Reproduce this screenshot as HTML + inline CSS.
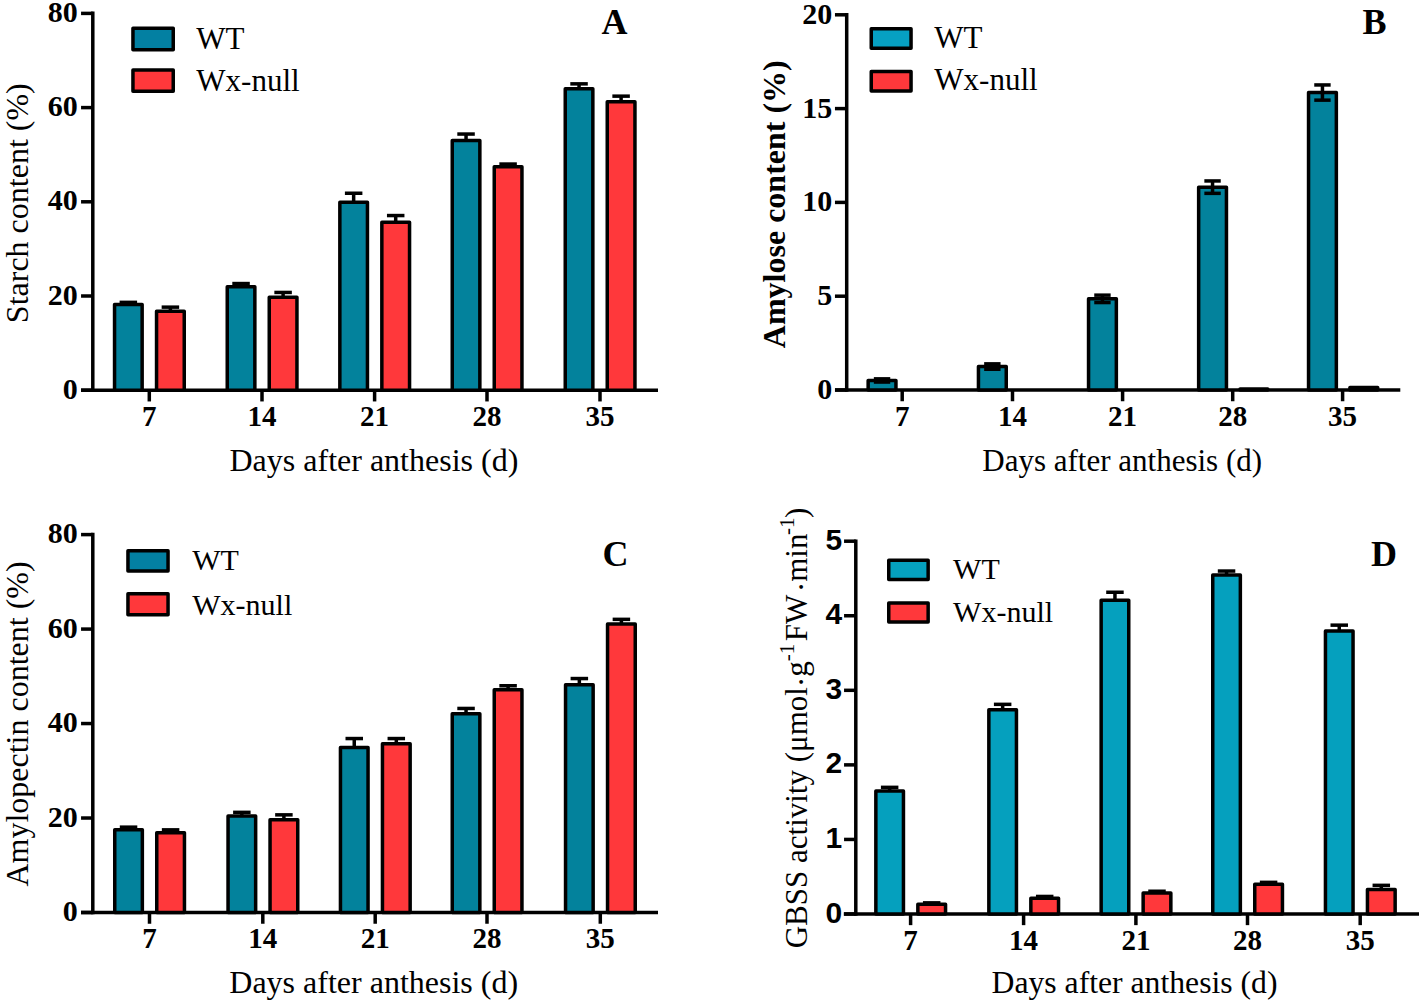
<!DOCTYPE html>
<html><head><meta charset="utf-8"><style>
html,body{margin:0;padding:0;background:#fff;}
body{width:1422px;height:1007px;overflow:hidden;}
svg{display:block;}
</style></head><body>
<svg width="1422" height="1007" viewBox="0 0 1422 1007">
<rect width="1422" height="1007" fill="#fff"/>
<line x1="92.80" y1="11.60" x2="92.80" y2="391.95" stroke="#000" stroke-width="3.5"/>
<line x1="81.00" y1="390.20" x2="658.00" y2="390.20" stroke="#000" stroke-width="3.5"/>
<line x1="81.05" y1="390.20" x2="92.80" y2="390.20" stroke="#000" stroke-width="3.5"/>
<text x="77.80" y="398.70" font-family='"Liberation Serif", serif' font-size="30" font-weight="700" text-anchor="end" >0</text>
<line x1="81.05" y1="296.00" x2="92.80" y2="296.00" stroke="#000" stroke-width="3.5"/>
<text x="77.80" y="304.50" font-family='"Liberation Serif", serif' font-size="30" font-weight="700" text-anchor="end" >20</text>
<line x1="81.05" y1="201.80" x2="92.80" y2="201.80" stroke="#000" stroke-width="3.5"/>
<text x="77.80" y="210.30" font-family='"Liberation Serif", serif' font-size="30" font-weight="700" text-anchor="end" >40</text>
<line x1="81.05" y1="107.60" x2="92.80" y2="107.60" stroke="#000" stroke-width="3.5"/>
<text x="77.80" y="116.10" font-family='"Liberation Serif", serif' font-size="30" font-weight="700" text-anchor="end" >60</text>
<line x1="81.05" y1="13.40" x2="92.80" y2="13.40" stroke="#000" stroke-width="3.5"/>
<text x="77.80" y="21.90" font-family='"Liberation Serif", serif' font-size="30" font-weight="700" text-anchor="end" >80</text>
<line x1="149.30" y1="390.20" x2="149.30" y2="401.45" stroke="#000" stroke-width="3.5"/>
<text x="149.30" y="426.00" font-family='"Liberation Serif", serif' font-size="29" font-weight="700" text-anchor="middle" >7</text>
<line x1="262.00" y1="390.20" x2="262.00" y2="401.45" stroke="#000" stroke-width="3.5"/>
<text x="262.00" y="426.00" font-family='"Liberation Serif", serif' font-size="29" font-weight="700" text-anchor="middle" >14</text>
<line x1="374.60" y1="390.20" x2="374.60" y2="401.45" stroke="#000" stroke-width="3.5"/>
<text x="374.60" y="426.00" font-family='"Liberation Serif", serif' font-size="29" font-weight="700" text-anchor="middle" >21</text>
<line x1="487.00" y1="390.20" x2="487.00" y2="401.45" stroke="#000" stroke-width="3.5"/>
<text x="487.00" y="426.00" font-family='"Liberation Serif", serif' font-size="29" font-weight="700" text-anchor="middle" >28</text>
<line x1="600.00" y1="390.20" x2="600.00" y2="401.45" stroke="#000" stroke-width="3.5"/>
<text x="600.00" y="426.00" font-family='"Liberation Serif", serif' font-size="29" font-weight="700" text-anchor="middle" >35</text>
<rect x="114.55" y="304.55" width="27.60" height="85.65" fill="#03829c" stroke="#000" stroke-width="3.5" stroke-linejoin="round"/>
<line x1="128.35" y1="302.35" x2="128.35" y2="304.55" stroke="#000" stroke-width="3.5"/>
<line x1="119.60" y1="302.35" x2="137.10" y2="302.35" stroke="#000" stroke-width="3.5"/>
<rect x="156.55" y="311.35" width="27.70" height="78.85" fill="#ff383b" stroke="#000" stroke-width="3.5" stroke-linejoin="round"/>
<line x1="170.40" y1="307.15" x2="170.40" y2="311.35" stroke="#000" stroke-width="3.5"/>
<line x1="161.65" y1="307.15" x2="179.15" y2="307.15" stroke="#000" stroke-width="3.5"/>
<rect x="227.25" y="286.85" width="27.60" height="103.35" fill="#03829c" stroke="#000" stroke-width="3.5" stroke-linejoin="round"/>
<line x1="241.05" y1="283.55" x2="241.05" y2="286.85" stroke="#000" stroke-width="3.5"/>
<line x1="232.30" y1="283.55" x2="249.80" y2="283.55" stroke="#000" stroke-width="3.5"/>
<rect x="269.25" y="297.15" width="27.70" height="93.05" fill="#ff383b" stroke="#000" stroke-width="3.5" stroke-linejoin="round"/>
<line x1="283.10" y1="292.45" x2="283.10" y2="297.15" stroke="#000" stroke-width="3.5"/>
<line x1="274.35" y1="292.45" x2="291.85" y2="292.45" stroke="#000" stroke-width="3.5"/>
<rect x="339.85" y="202.15" width="27.60" height="188.05" fill="#03829c" stroke="#000" stroke-width="3.5" stroke-linejoin="round"/>
<line x1="353.65" y1="193.25" x2="353.65" y2="202.15" stroke="#000" stroke-width="3.5"/>
<line x1="344.90" y1="193.25" x2="362.40" y2="193.25" stroke="#000" stroke-width="3.5"/>
<rect x="381.85" y="222.15" width="27.70" height="168.05" fill="#ff383b" stroke="#000" stroke-width="3.5" stroke-linejoin="round"/>
<line x1="395.70" y1="215.55" x2="395.70" y2="222.15" stroke="#000" stroke-width="3.5"/>
<line x1="386.95" y1="215.55" x2="404.45" y2="215.55" stroke="#000" stroke-width="3.5"/>
<rect x="452.25" y="140.45" width="27.60" height="249.75" fill="#03829c" stroke="#000" stroke-width="3.5" stroke-linejoin="round"/>
<line x1="466.05" y1="134.05" x2="466.05" y2="140.45" stroke="#000" stroke-width="3.5"/>
<line x1="457.30" y1="134.05" x2="474.80" y2="134.05" stroke="#000" stroke-width="3.5"/>
<rect x="494.25" y="166.75" width="27.70" height="223.45" fill="#ff383b" stroke="#000" stroke-width="3.5" stroke-linejoin="round"/>
<line x1="508.10" y1="164.05" x2="508.10" y2="166.75" stroke="#000" stroke-width="3.5"/>
<line x1="499.35" y1="164.05" x2="516.85" y2="164.05" stroke="#000" stroke-width="3.5"/>
<rect x="565.25" y="88.75" width="27.60" height="301.45" fill="#03829c" stroke="#000" stroke-width="3.5" stroke-linejoin="round"/>
<line x1="579.05" y1="83.85" x2="579.05" y2="88.75" stroke="#000" stroke-width="3.5"/>
<line x1="570.30" y1="83.85" x2="587.80" y2="83.85" stroke="#000" stroke-width="3.5"/>
<rect x="607.25" y="101.75" width="27.70" height="288.45" fill="#ff383b" stroke="#000" stroke-width="3.5" stroke-linejoin="round"/>
<line x1="621.10" y1="96.15" x2="621.10" y2="101.75" stroke="#000" stroke-width="3.5"/>
<line x1="612.35" y1="96.15" x2="629.85" y2="96.15" stroke="#000" stroke-width="3.5"/>
<rect x="132.95" y="28.35" width="40.30" height="21.40" fill="#0380a2" stroke="#000" stroke-width="3.5" stroke-linejoin="round"/>
<rect x="132.95" y="70.05" width="40.30" height="21.10" fill="#ff383b" stroke="#000" stroke-width="3.5" stroke-linejoin="round"/>
<text x="196.30" y="49.40" font-family='"Liberation Serif", serif' font-size="31" font-weight="400" text-anchor="start" >WT</text>
<text x="196.30" y="90.60" font-family='"Liberation Serif", serif' font-size="31" font-weight="400" text-anchor="start" >Wx-null</text>
<text x="601.50" y="34.30" font-family='"Liberation Serif", serif' font-size="36" font-weight="700" text-anchor="start" >A</text>
<text x="373.90" y="471.40" font-family='"Liberation Serif", serif' font-size="32" font-weight="400" text-anchor="middle" >Days after anthesis (d)</text>
<text transform="translate(28.3,203.2) rotate(-90)" font-family='"Liberation Serif", serif' font-size="32" font-weight="400" text-anchor="middle">Starch content (%)</text>
<line x1="846.70" y1="12.90" x2="846.70" y2="391.75" stroke="#000" stroke-width="3.5"/>
<line x1="835.00" y1="390.00" x2="1400.30" y2="390.00" stroke="#000" stroke-width="3.5"/>
<line x1="834.95" y1="390.00" x2="846.70" y2="390.00" stroke="#000" stroke-width="3.5"/>
<text x="832.30" y="399.00" font-family='"Liberation Serif", serif' font-size="30" font-weight="700" text-anchor="end" >0</text>
<line x1="834.95" y1="296.20" x2="846.70" y2="296.20" stroke="#000" stroke-width="3.5"/>
<text x="832.30" y="305.20" font-family='"Liberation Serif", serif' font-size="30" font-weight="700" text-anchor="end" >5</text>
<line x1="834.95" y1="202.40" x2="846.70" y2="202.40" stroke="#000" stroke-width="3.5"/>
<text x="832.30" y="211.40" font-family='"Liberation Serif", serif' font-size="30" font-weight="700" text-anchor="end" >10</text>
<line x1="834.95" y1="108.60" x2="846.70" y2="108.60" stroke="#000" stroke-width="3.5"/>
<text x="832.30" y="117.60" font-family='"Liberation Serif", serif' font-size="30" font-weight="700" text-anchor="end" >15</text>
<line x1="834.95" y1="14.80" x2="846.70" y2="14.80" stroke="#000" stroke-width="3.5"/>
<text x="832.30" y="23.80" font-family='"Liberation Serif", serif' font-size="30" font-weight="700" text-anchor="end" >20</text>
<line x1="902.20" y1="390.00" x2="902.20" y2="401.25" stroke="#000" stroke-width="3.5"/>
<text x="902.20" y="426.00" font-family='"Liberation Serif", serif' font-size="29" font-weight="700" text-anchor="middle" >7</text>
<line x1="1012.50" y1="390.00" x2="1012.50" y2="401.25" stroke="#000" stroke-width="3.5"/>
<text x="1012.50" y="426.00" font-family='"Liberation Serif", serif' font-size="29" font-weight="700" text-anchor="middle" >14</text>
<line x1="1122.60" y1="390.00" x2="1122.60" y2="401.25" stroke="#000" stroke-width="3.5"/>
<text x="1122.60" y="426.00" font-family='"Liberation Serif", serif' font-size="29" font-weight="700" text-anchor="middle" >21</text>
<line x1="1232.70" y1="390.00" x2="1232.70" y2="401.25" stroke="#000" stroke-width="3.5"/>
<text x="1232.70" y="426.00" font-family='"Liberation Serif", serif' font-size="29" font-weight="700" text-anchor="middle" >28</text>
<line x1="1342.60" y1="390.00" x2="1342.60" y2="401.25" stroke="#000" stroke-width="3.5"/>
<text x="1342.60" y="426.00" font-family='"Liberation Serif", serif' font-size="29" font-weight="700" text-anchor="middle" >35</text>
<rect x="868.15" y="380.45" width="27.80" height="9.55" fill="#03829c" stroke="#000" stroke-width="3.5" stroke-linejoin="round"/>
<line x1="882.05" y1="378.85" x2="882.05" y2="380.45" stroke="#000" stroke-width="3.5"/>
<line x1="873.85" y1="378.85" x2="890.25" y2="378.85" stroke="#000" stroke-width="3.5"/>
<line x1="882.05" y1="380.45" x2="882.05" y2="382.05" stroke="#000" stroke-width="3.5"/>
<line x1="873.85" y1="382.05" x2="890.25" y2="382.05" stroke="#000" stroke-width="3.5"/>
<rect x="978.45" y="366.55" width="27.80" height="23.45" fill="#03829c" stroke="#000" stroke-width="3.5" stroke-linejoin="round"/>
<line x1="992.35" y1="363.85" x2="992.35" y2="366.55" stroke="#000" stroke-width="3.5"/>
<line x1="984.15" y1="363.85" x2="1000.55" y2="363.85" stroke="#000" stroke-width="3.5"/>
<line x1="992.35" y1="366.55" x2="992.35" y2="369.25" stroke="#000" stroke-width="3.5"/>
<line x1="984.15" y1="369.25" x2="1000.55" y2="369.25" stroke="#000" stroke-width="3.5"/>
<rect x="1088.55" y="298.85" width="27.80" height="91.15" fill="#03829c" stroke="#000" stroke-width="3.5" stroke-linejoin="round"/>
<line x1="1102.45" y1="295.15" x2="1102.45" y2="298.85" stroke="#000" stroke-width="3.5"/>
<line x1="1094.25" y1="295.15" x2="1110.65" y2="295.15" stroke="#000" stroke-width="3.5"/>
<line x1="1102.45" y1="298.85" x2="1102.45" y2="302.55" stroke="#000" stroke-width="3.5"/>
<line x1="1094.25" y1="302.55" x2="1110.65" y2="302.55" stroke="#000" stroke-width="3.5"/>
<rect x="1198.65" y="187.15" width="27.80" height="202.85" fill="#03829c" stroke="#000" stroke-width="3.5" stroke-linejoin="round"/>
<line x1="1212.55" y1="180.95" x2="1212.55" y2="187.15" stroke="#000" stroke-width="3.5"/>
<line x1="1204.35" y1="180.95" x2="1220.75" y2="180.95" stroke="#000" stroke-width="3.5"/>
<line x1="1212.55" y1="187.15" x2="1212.55" y2="193.35" stroke="#000" stroke-width="3.5"/>
<line x1="1204.35" y1="193.35" x2="1220.75" y2="193.35" stroke="#000" stroke-width="3.5"/>
<rect x="1240.05" y="389.05" width="27.70" height="0.95" fill="#ff383b" stroke="#000" stroke-width="3.5" stroke-linejoin="round"/>
<rect x="1308.55" y="92.55" width="27.80" height="297.45" fill="#03829c" stroke="#000" stroke-width="3.5" stroke-linejoin="round"/>
<line x1="1322.45" y1="84.95" x2="1322.45" y2="92.55" stroke="#000" stroke-width="3.5"/>
<line x1="1314.25" y1="84.95" x2="1330.65" y2="84.95" stroke="#000" stroke-width="3.5"/>
<line x1="1322.45" y1="92.55" x2="1322.45" y2="100.15" stroke="#000" stroke-width="3.5"/>
<line x1="1314.25" y1="100.15" x2="1330.65" y2="100.15" stroke="#000" stroke-width="3.5"/>
<rect x="1349.95" y="387.55" width="27.70" height="2.45" fill="#ff383b" stroke="#000" stroke-width="3.5" stroke-linejoin="round"/>
<rect x="871.25" y="28.75" width="39.80" height="19.50" fill="#06a0c2" stroke="#000" stroke-width="3.5" stroke-linejoin="round"/>
<rect x="871.25" y="71.45" width="39.80" height="19.50" fill="#ff383b" stroke="#000" stroke-width="3.5" stroke-linejoin="round"/>
<text x="934.30" y="48.20" font-family='"Liberation Serif", serif' font-size="31" font-weight="400" text-anchor="start" >WT</text>
<text x="934.30" y="90.30" font-family='"Liberation Serif", serif' font-size="31" font-weight="400" text-anchor="start" >Wx-null</text>
<text x="1362.50" y="34.30" font-family='"Liberation Serif", serif' font-size="36" font-weight="700" text-anchor="start" >B</text>
<text x="1122.20" y="471.40" font-family='"Liberation Serif", serif' font-size="31" font-weight="400" text-anchor="middle" >Days after anthesis (d)</text>
<text transform="translate(785,204.2) rotate(-90)" font-family='"Liberation Serif", serif' font-size="32" font-weight="700" text-anchor="middle">Amylose content (%)</text>
<line x1="92.80" y1="532.80" x2="92.80" y2="914.25" stroke="#000" stroke-width="3.5"/>
<line x1="81.00" y1="912.50" x2="658.00" y2="912.50" stroke="#000" stroke-width="3.5"/>
<line x1="81.05" y1="912.50" x2="92.80" y2="912.50" stroke="#000" stroke-width="3.5"/>
<text x="77.80" y="921.00" font-family='"Liberation Serif", serif' font-size="30" font-weight="700" text-anchor="end" >0</text>
<line x1="81.05" y1="818.02" x2="92.80" y2="818.02" stroke="#000" stroke-width="3.5"/>
<text x="77.80" y="826.52" font-family='"Liberation Serif", serif' font-size="30" font-weight="700" text-anchor="end" >20</text>
<line x1="81.05" y1="723.55" x2="92.80" y2="723.55" stroke="#000" stroke-width="3.5"/>
<text x="77.80" y="732.05" font-family='"Liberation Serif", serif' font-size="30" font-weight="700" text-anchor="end" >40</text>
<line x1="81.05" y1="629.08" x2="92.80" y2="629.08" stroke="#000" stroke-width="3.5"/>
<text x="77.80" y="637.58" font-family='"Liberation Serif", serif' font-size="30" font-weight="700" text-anchor="end" >60</text>
<line x1="81.05" y1="534.60" x2="92.80" y2="534.60" stroke="#000" stroke-width="3.5"/>
<text x="77.80" y="543.10" font-family='"Liberation Serif", serif' font-size="30" font-weight="700" text-anchor="end" >80</text>
<line x1="149.50" y1="912.50" x2="149.50" y2="923.75" stroke="#000" stroke-width="3.5"/>
<text x="149.50" y="948.00" font-family='"Liberation Serif", serif' font-size="29" font-weight="700" text-anchor="middle" >7</text>
<line x1="262.80" y1="912.50" x2="262.80" y2="923.75" stroke="#000" stroke-width="3.5"/>
<text x="262.80" y="948.00" font-family='"Liberation Serif", serif' font-size="29" font-weight="700" text-anchor="middle" >14</text>
<line x1="375.20" y1="912.50" x2="375.20" y2="923.75" stroke="#000" stroke-width="3.5"/>
<text x="375.20" y="948.00" font-family='"Liberation Serif", serif' font-size="29" font-weight="700" text-anchor="middle" >21</text>
<line x1="487.00" y1="912.50" x2="487.00" y2="923.75" stroke="#000" stroke-width="3.5"/>
<text x="487.00" y="948.00" font-family='"Liberation Serif", serif' font-size="29" font-weight="700" text-anchor="middle" >28</text>
<line x1="600.30" y1="912.50" x2="600.30" y2="923.75" stroke="#000" stroke-width="3.5"/>
<text x="600.30" y="948.00" font-family='"Liberation Serif", serif' font-size="29" font-weight="700" text-anchor="middle" >35</text>
<rect x="114.75" y="829.85" width="27.60" height="82.65" fill="#03829c" stroke="#000" stroke-width="3.5" stroke-linejoin="round"/>
<line x1="128.55" y1="827.15" x2="128.55" y2="829.85" stroke="#000" stroke-width="3.5"/>
<line x1="119.80" y1="827.15" x2="137.30" y2="827.15" stroke="#000" stroke-width="3.5"/>
<rect x="156.75" y="832.85" width="27.70" height="79.65" fill="#ff383b" stroke="#000" stroke-width="3.5" stroke-linejoin="round"/>
<line x1="170.60" y1="829.85" x2="170.60" y2="832.85" stroke="#000" stroke-width="3.5"/>
<line x1="161.85" y1="829.85" x2="179.35" y2="829.85" stroke="#000" stroke-width="3.5"/>
<rect x="228.05" y="815.95" width="27.60" height="96.55" fill="#03829c" stroke="#000" stroke-width="3.5" stroke-linejoin="round"/>
<line x1="241.85" y1="812.35" x2="241.85" y2="815.95" stroke="#000" stroke-width="3.5"/>
<line x1="233.10" y1="812.35" x2="250.60" y2="812.35" stroke="#000" stroke-width="3.5"/>
<rect x="270.05" y="819.75" width="27.70" height="92.75" fill="#ff383b" stroke="#000" stroke-width="3.5" stroke-linejoin="round"/>
<line x1="283.90" y1="814.85" x2="283.90" y2="819.75" stroke="#000" stroke-width="3.5"/>
<line x1="275.15" y1="814.85" x2="292.65" y2="814.85" stroke="#000" stroke-width="3.5"/>
<rect x="340.45" y="747.55" width="27.60" height="164.95" fill="#03829c" stroke="#000" stroke-width="3.5" stroke-linejoin="round"/>
<line x1="354.25" y1="738.55" x2="354.25" y2="747.55" stroke="#000" stroke-width="3.5"/>
<line x1="345.50" y1="738.55" x2="363.00" y2="738.55" stroke="#000" stroke-width="3.5"/>
<rect x="382.45" y="743.75" width="27.70" height="168.75" fill="#ff383b" stroke="#000" stroke-width="3.5" stroke-linejoin="round"/>
<line x1="396.30" y1="738.55" x2="396.30" y2="743.75" stroke="#000" stroke-width="3.5"/>
<line x1="387.55" y1="738.55" x2="405.05" y2="738.55" stroke="#000" stroke-width="3.5"/>
<rect x="452.25" y="713.85" width="27.60" height="198.65" fill="#03829c" stroke="#000" stroke-width="3.5" stroke-linejoin="round"/>
<line x1="466.05" y1="708.45" x2="466.05" y2="713.85" stroke="#000" stroke-width="3.5"/>
<line x1="457.30" y1="708.45" x2="474.80" y2="708.45" stroke="#000" stroke-width="3.5"/>
<rect x="494.25" y="689.75" width="27.70" height="222.75" fill="#ff383b" stroke="#000" stroke-width="3.5" stroke-linejoin="round"/>
<line x1="508.10" y1="685.75" x2="508.10" y2="689.75" stroke="#000" stroke-width="3.5"/>
<line x1="499.35" y1="685.75" x2="516.85" y2="685.75" stroke="#000" stroke-width="3.5"/>
<rect x="565.55" y="684.85" width="27.60" height="227.65" fill="#03829c" stroke="#000" stroke-width="3.5" stroke-linejoin="round"/>
<line x1="579.35" y1="678.55" x2="579.35" y2="684.85" stroke="#000" stroke-width="3.5"/>
<line x1="570.60" y1="678.55" x2="588.10" y2="678.55" stroke="#000" stroke-width="3.5"/>
<rect x="607.55" y="624.05" width="27.70" height="288.45" fill="#ff383b" stroke="#000" stroke-width="3.5" stroke-linejoin="round"/>
<line x1="621.40" y1="619.35" x2="621.40" y2="624.05" stroke="#000" stroke-width="3.5"/>
<line x1="612.65" y1="619.35" x2="630.15" y2="619.35" stroke="#000" stroke-width="3.5"/>
<rect x="127.95" y="550.85" width="40.10" height="20.10" fill="#0380a2" stroke="#000" stroke-width="3.5" stroke-linejoin="round"/>
<rect x="127.95" y="593.75" width="40.10" height="21.10" fill="#ff383b" stroke="#000" stroke-width="3.5" stroke-linejoin="round"/>
<text x="192.30" y="570.20" font-family='"Liberation Serif", serif' font-size="30" font-weight="400" text-anchor="start" >WT</text>
<text x="192.30" y="614.50" font-family='"Liberation Serif", serif' font-size="30" font-weight="400" text-anchor="start" >Wx-null</text>
<text x="602.50" y="565.50" font-family='"Liberation Serif", serif' font-size="36" font-weight="700" text-anchor="start" >C</text>
<text x="373.70" y="993.20" font-family='"Liberation Serif", serif' font-size="32" font-weight="400" text-anchor="middle" >Days after anthesis (d)</text>
<text transform="translate(28.3,724) rotate(-90)" font-family='"Liberation Serif", serif' font-size="32" font-weight="400" text-anchor="middle">Amylopectin content (%)</text>
<line x1="855.80" y1="539.50" x2="855.80" y2="915.65" stroke="#000" stroke-width="3.5"/>
<line x1="843.80" y1="913.90" x2="1419.00" y2="913.90" stroke="#000" stroke-width="3.5"/>
<line x1="844.05" y1="914.00" x2="855.80" y2="914.00" stroke="#000" stroke-width="3.5"/>
<text x="842.30" y="922.50" font-family='"Liberation Sans", sans-serif' font-size="30" font-weight="700" text-anchor="end" >0</text>
<line x1="844.05" y1="839.44" x2="855.80" y2="839.44" stroke="#000" stroke-width="3.5"/>
<text x="842.30" y="847.94" font-family='"Liberation Sans", sans-serif' font-size="30" font-weight="700" text-anchor="end" >1</text>
<line x1="844.05" y1="764.88" x2="855.80" y2="764.88" stroke="#000" stroke-width="3.5"/>
<text x="842.30" y="773.38" font-family='"Liberation Sans", sans-serif' font-size="30" font-weight="700" text-anchor="end" >2</text>
<line x1="844.05" y1="690.32" x2="855.80" y2="690.32" stroke="#000" stroke-width="3.5"/>
<text x="842.30" y="698.82" font-family='"Liberation Sans", sans-serif' font-size="30" font-weight="700" text-anchor="end" >3</text>
<line x1="844.05" y1="615.76" x2="855.80" y2="615.76" stroke="#000" stroke-width="3.5"/>
<text x="842.30" y="624.26" font-family='"Liberation Sans", sans-serif' font-size="30" font-weight="700" text-anchor="end" >4</text>
<line x1="844.05" y1="541.20" x2="855.80" y2="541.20" stroke="#000" stroke-width="3.5"/>
<text x="842.30" y="549.70" font-family='"Liberation Sans", sans-serif' font-size="30" font-weight="700" text-anchor="end" >5</text>
<line x1="910.60" y1="913.90" x2="910.60" y2="925.15" stroke="#000" stroke-width="3.5"/>
<text x="910.60" y="949.50" font-family='"Liberation Serif", serif' font-size="29" font-weight="700" text-anchor="middle" >7</text>
<line x1="1023.60" y1="913.90" x2="1023.60" y2="925.15" stroke="#000" stroke-width="3.5"/>
<text x="1023.60" y="949.50" font-family='"Liberation Serif", serif' font-size="29" font-weight="700" text-anchor="middle" >14</text>
<line x1="1135.90" y1="913.90" x2="1135.90" y2="925.15" stroke="#000" stroke-width="3.5"/>
<text x="1135.90" y="949.50" font-family='"Liberation Serif", serif' font-size="29" font-weight="700" text-anchor="middle" >21</text>
<line x1="1247.50" y1="913.90" x2="1247.50" y2="925.15" stroke="#000" stroke-width="3.5"/>
<text x="1247.50" y="949.50" font-family='"Liberation Serif", serif' font-size="29" font-weight="700" text-anchor="middle" >28</text>
<line x1="1360.20" y1="913.90" x2="1360.20" y2="925.15" stroke="#000" stroke-width="3.5"/>
<text x="1360.20" y="949.50" font-family='"Liberation Serif", serif' font-size="29" font-weight="700" text-anchor="middle" >35</text>
<rect x="875.85" y="791.05" width="27.60" height="122.85" fill="#05a0be" stroke="#000" stroke-width="3.5" stroke-linejoin="round"/>
<line x1="889.65" y1="787.35" x2="889.65" y2="791.05" stroke="#000" stroke-width="3.5"/>
<line x1="880.90" y1="787.35" x2="898.40" y2="787.35" stroke="#000" stroke-width="3.5"/>
<rect x="917.85" y="904.35" width="27.70" height="9.55" fill="#ff383b" stroke="#000" stroke-width="3.5" stroke-linejoin="round"/>
<line x1="931.70" y1="902.85" x2="931.70" y2="904.35" stroke="#000" stroke-width="3.5"/>
<line x1="922.95" y1="902.85" x2="940.45" y2="902.85" stroke="#000" stroke-width="3.5"/>
<rect x="988.85" y="709.85" width="27.60" height="204.05" fill="#05a0be" stroke="#000" stroke-width="3.5" stroke-linejoin="round"/>
<line x1="1002.65" y1="704.35" x2="1002.65" y2="709.85" stroke="#000" stroke-width="3.5"/>
<line x1="993.90" y1="704.35" x2="1011.40" y2="704.35" stroke="#000" stroke-width="3.5"/>
<rect x="1030.85" y="898.35" width="27.70" height="15.55" fill="#ff383b" stroke="#000" stroke-width="3.5" stroke-linejoin="round"/>
<line x1="1044.70" y1="896.45" x2="1044.70" y2="898.35" stroke="#000" stroke-width="3.5"/>
<line x1="1035.95" y1="896.45" x2="1053.45" y2="896.45" stroke="#000" stroke-width="3.5"/>
<rect x="1101.15" y="600.15" width="27.60" height="313.75" fill="#05a0be" stroke="#000" stroke-width="3.5" stroke-linejoin="round"/>
<line x1="1114.95" y1="592.25" x2="1114.95" y2="600.15" stroke="#000" stroke-width="3.5"/>
<line x1="1106.20" y1="592.25" x2="1123.70" y2="592.25" stroke="#000" stroke-width="3.5"/>
<rect x="1143.15" y="893.05" width="27.70" height="20.85" fill="#ff383b" stroke="#000" stroke-width="3.5" stroke-linejoin="round"/>
<line x1="1157.00" y1="891.25" x2="1157.00" y2="893.05" stroke="#000" stroke-width="3.5"/>
<line x1="1148.25" y1="891.25" x2="1165.75" y2="891.25" stroke="#000" stroke-width="3.5"/>
<rect x="1212.75" y="574.95" width="27.60" height="338.95" fill="#05a0be" stroke="#000" stroke-width="3.5" stroke-linejoin="round"/>
<line x1="1226.55" y1="571.05" x2="1226.55" y2="574.95" stroke="#000" stroke-width="3.5"/>
<line x1="1217.80" y1="571.05" x2="1235.30" y2="571.05" stroke="#000" stroke-width="3.5"/>
<rect x="1254.75" y="884.15" width="27.70" height="29.75" fill="#ff383b" stroke="#000" stroke-width="3.5" stroke-linejoin="round"/>
<line x1="1268.60" y1="882.35" x2="1268.60" y2="884.15" stroke="#000" stroke-width="3.5"/>
<line x1="1259.85" y1="882.35" x2="1277.35" y2="882.35" stroke="#000" stroke-width="3.5"/>
<rect x="1325.45" y="631.05" width="27.60" height="282.85" fill="#05a0be" stroke="#000" stroke-width="3.5" stroke-linejoin="round"/>
<line x1="1339.25" y1="625.15" x2="1339.25" y2="631.05" stroke="#000" stroke-width="3.5"/>
<line x1="1330.50" y1="625.15" x2="1348.00" y2="625.15" stroke="#000" stroke-width="3.5"/>
<rect x="1367.45" y="889.45" width="27.70" height="24.45" fill="#ff383b" stroke="#000" stroke-width="3.5" stroke-linejoin="round"/>
<line x1="1381.30" y1="885.35" x2="1381.30" y2="889.45" stroke="#000" stroke-width="3.5"/>
<line x1="1372.55" y1="885.35" x2="1390.05" y2="885.35" stroke="#000" stroke-width="3.5"/>
<rect x="888.75" y="560.15" width="39.40" height="19.40" fill="#05a0be" stroke="#000" stroke-width="3.5" stroke-linejoin="round"/>
<rect x="888.75" y="603.05" width="39.40" height="19.00" fill="#ff383b" stroke="#000" stroke-width="3.5" stroke-linejoin="round"/>
<text x="953.10" y="578.80" font-family='"Liberation Serif", serif' font-size="30" font-weight="400" text-anchor="start" >WT</text>
<text x="953.10" y="622.10" font-family='"Liberation Serif", serif' font-size="30" font-weight="400" text-anchor="start" >Wx-null</text>
<text x="1371.00" y="565.50" font-family='"Liberation Serif", serif' font-size="36" font-weight="700" text-anchor="start" >D</text>
<text x="1134.50" y="992.50" font-family='"Liberation Serif", serif' font-size="31.7" font-weight="400" text-anchor="middle" >Days after anthesis (d)</text>
<text transform="translate(806.5,728) rotate(-90)" font-family='"Liberation Serif", serif' font-size="31" font-weight="400" text-anchor="middle">GBSS activity (μmol<tspan dy="5.5">·</tspan><tspan dy="-5.5">g</tspan><tspan dy="-12.5" font-size="21">-1</tspan><tspan dy="12.5">&#8202;FW&#8202;</tspan><tspan dy="5.5">·</tspan><tspan dy="-5.5">min</tspan><tspan dy="-12.5" dx="-1.5" font-size="21">-1</tspan><tspan dy="12.5" dx="-0.5">)</tspan></text>
</svg>
</body></html>
